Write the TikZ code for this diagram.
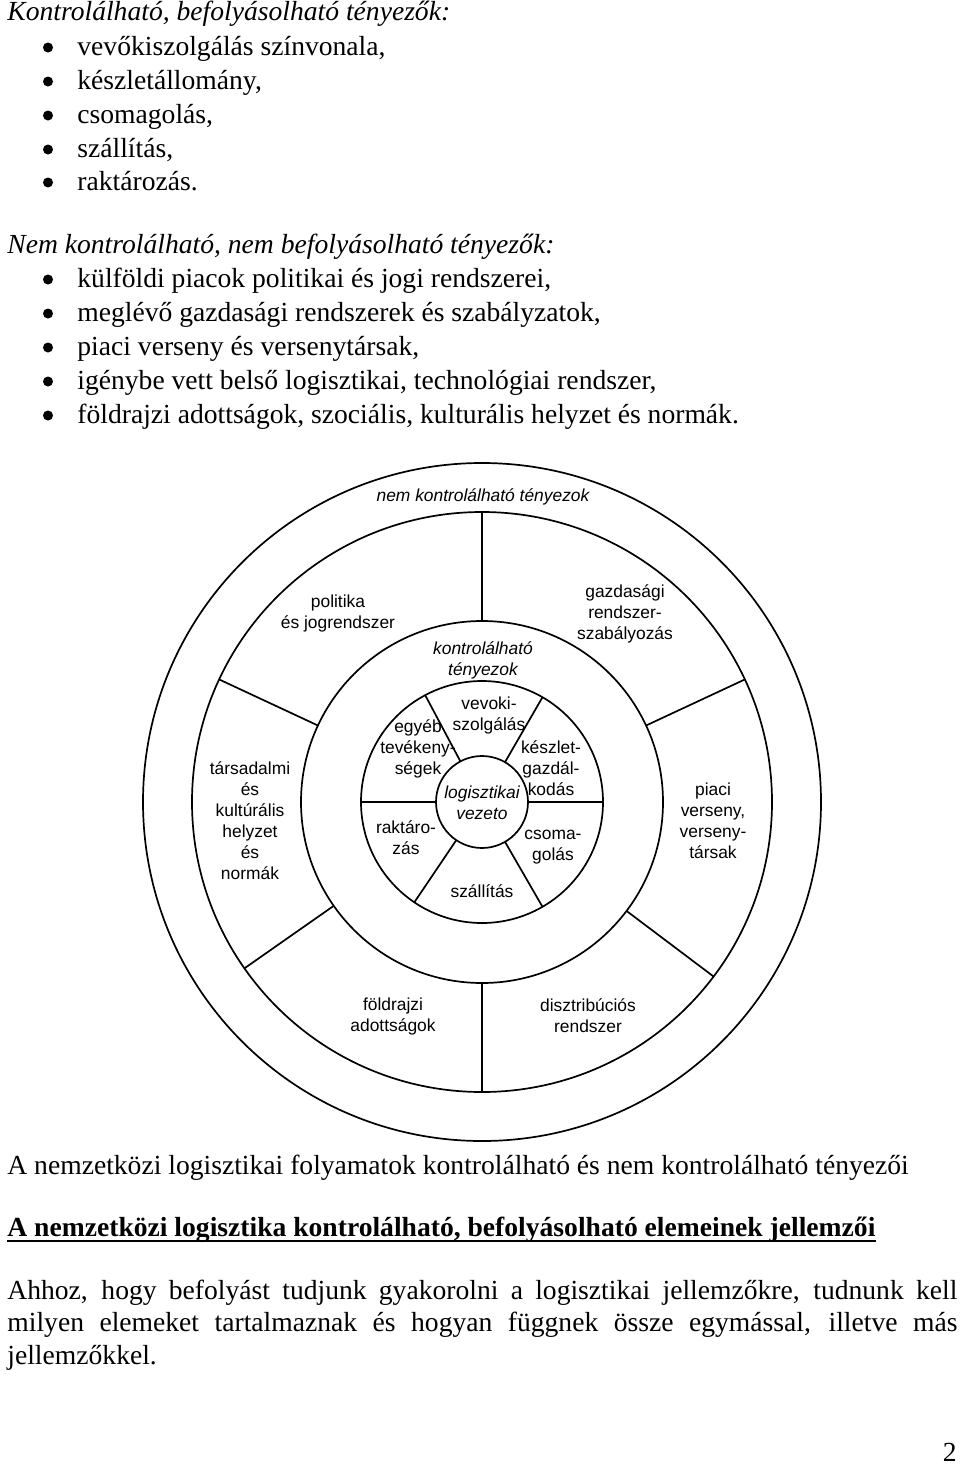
\documentclass[tikz,border=0pt]{standalone}
\usepackage{fontspec}
\setmainfont{Liberation Serif}
\newfontfamily\diagfont{Liberation Sans}
\begin{document}
\begin{tikzpicture}[x=0.5pt,y=-0.5pt,
  txt/.style={inner sep=0pt, anchor=base west, font=\fontsize{13.8pt}{16pt}\selectfont},
  hd/.style={inner sep=0pt, anchor=base west, font=\fontsize{13.8pt}{16pt}\selectfont\itshape},
  lbl/.style={inner sep=0pt, align=center, font=\diagfont\fontsize{8.7pt}{10.5pt}\selectfont},
  ilbl/.style={lbl, font=\diagfont\fontsize{8.7pt}{10.5pt}\selectfont\itshape},
  ring/.style={circle, draw, line width=0.85pt, inner sep=0pt, outer sep=0pt},
  spoke/.style={line width=0.85pt},
  bul/.style={circle, fill, inner sep=0pt, minimum size=5pt}]
\useasboundingbox[fill=white] (0,0) rectangle (960,1472);

% ---- top text ----
\node[hd] (h1) at (7,20) {Kontrolálható, befolyásolható tényezők:};
\node[bul] (b1) at (48,47.5) {}; \node[txt] (t1) at (77,55) {vevőkiszolgálás színvonala,};
\node[bul] (b2) at (48,81.5) {}; \node[txt] (t2) at (77,89) {készletállomány,};
\node[bul] (b3) at (48,115.5) {}; \node[txt] (t3) at (77,123) {csomagolás,};
\node[bul] (b4) at (48,149.5) {}; \node[txt] (t4) at (77,157) {szállítás,};
\node[bul] (b5) at (48,182.5) {}; \node[txt] (t5) at (77,190) {raktározás.};

\node[hd] (h2) at (7,253) {Nem kontrolálható, nem befolyásolható tényezők:};
\node[bul] (c1) at (48,279.5) {}; \node[txt] (u1) at (77,287) {külföldi piacok politikai és jogi rendszerei,};
\node[bul] (c2) at (48,313.5) {}; \node[txt] (u2) at (77,321) {meglévő gazdasági rendszerek és szabályzatok,};
\node[bul] (c3) at (48,347.5) {}; \node[txt] (u3) at (77,355) {piaci verseny és versenytársak,};
\node[bul] (c4) at (48,381.5) {}; \node[txt] (u4) at (77,389) {igénybe vett belső logisztikai, technológiai rendszer,};
\node[bul] (c5) at (48,415.5) {}; \node[txt] (u5) at (77,423) {földrajzi adottságok, szociális, kulturális helyzet és normák.};

% ---- diagram ----
\node[ring, minimum size=339pt] (r1) at (482,802) {};
\node[ring, minimum size=290pt] (r2) at (482,802) {};
\node[ring, minimum size=181pt] (r3) at (482,802) {};
\node[ring, minimum size=121pt] (r4) at (482,802) {};
\node[ring, minimum size=46pt] (r5) at (482,802) {};

\foreach \a in {90,25,155,215,270,323} \draw[spoke] (r3.\a) -- (r2.\a);
\foreach \a in {0,60,118,180,236,300} \draw[spoke] (r5.\a) -- (r4.\a);

\node[ilbl] (nk) at (483,497) {nem kontrolálható tényezok};
\node[lbl] (pol) at (338,613.5) {politika\\és jogrendszer};
\node[lbl] (gaz) at (625,614) {gazdasági\\rendszer-\\szabályozás};
\node[ilbl] (kt) at (483,660) {kontrolálható\\tényezok};
\node[lbl] (vev) at (489,715) {vevoki-\\szolgálás};
\node[lbl] (egy) at (418,749) {egyéb\\tevékeny-\\ségek};
\node[lbl] (kesz) at (551,768) {készlet-\\gazdál-\\kodás};
\node[ilbl] (lv) at (482,803) {logisztikai\\vezeto};
\node[lbl] (rak) at (406,838) {raktáro-\\zás};
\node[lbl] (csom) at (553,847) {csoma-\\golás};
\node[lbl] (szal) at (482,891) {szállítás};
\node[lbl] (tars) at (250,820.5) {társadalmi\\és\\kultúrális\\helyzet\\és\\normák};
\node[lbl] (piac) at (713,821) {piaci\\verseny,\\verseny-\\társak};
\node[lbl] (fold) at (393,1016) {földrajzi\\adottságok};
\node[lbl] (disz) at (588,1016) {disztribúciós\\rendszer};

% ---- bottom text ----
\node[txt] (cap) at (7,1174) {A nemzetközi logisztikai folyamatok kontrolálható és nem kontrolálható tényezői};
\node[txt, font=\fontsize{13.8pt}{16pt}\selectfont\bfseries] (bold) at (7,1236) {A nemzetközi logisztika kontrolálható, befolyásolható elemeinek jellemzői};
\draw[line width=1.1pt] ([yshift=-2.6pt]bold.base west) -- ([yshift=-2.6pt]bold.base east);
\node[txt] (p1) at (7,1299) {\makebox[475pt][s]{Ahhoz, hogy befolyást tudjunk gyakorolni a logisztikai jellemzőkre, tudnunk kell}};
\node[txt] (p2) at (7,1331) {\makebox[475pt][s]{milyen elemeket tartalmaznak és hogyan függnek össze egymással, illetve más}};
\node[txt] (p3) at (7,1364) {jellemzőkkel.};
\node[txt, anchor=base east] (pg) at (957,1461) {2};
\end{tikzpicture}
\end{document}
